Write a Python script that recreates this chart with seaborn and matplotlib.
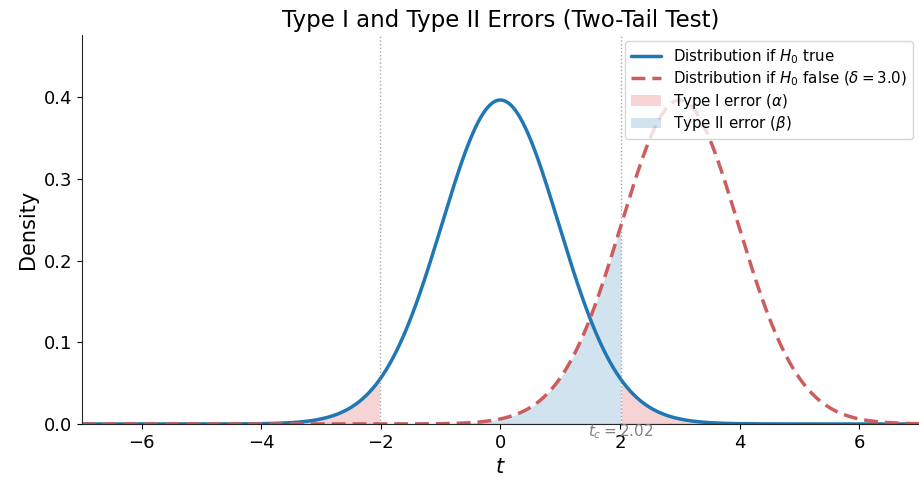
import math
import numpy as np
import pandas as pd
import matplotlib
matplotlib.use('Agg')
import matplotlib.pyplot as plt
import seaborn as sns

sns.set_style('ticks')
plt.rcParams['font.family'] = ['DejaVu Sans']
plt.rcParams['text.color'] = 'black'
plt.rcParams['axes.labelcolor'] = 'black'
plt.rcParams['xtick.color'] = 'black'
plt.rcParams['ytick.color'] = 'black'

# test setup
df_t = 40            # degrees of freedom (t_c = 2.02)
delta = 3.0          # shift of the alternative
t_crit = 2.02
x_range = [-7, 7]
y_top = 0.476


def t_pdf(x, nu):
    c = math.exp(math.lgamma((nu + 1) / 2) - math.lgamma(nu / 2)) / math.sqrt(nu * math.pi)
    return c * (1 + x ** 2 / nu) ** (-(nu + 1) / 2)


x = np.linspace(x_range[0], x_range[1], 1000)
curves = pd.DataFrame({'t': x,
                       'h0': t_pdf(x, df_t),
                       'h1': t_pdf(x - delta, df_t)})

blue = '#1f77b4'
red = '#cd5c5c'

fig = plt.figure(figsize=(9.19, 4.78), dpi=100)
ax = fig.add_axes([81.7 / 919, 1 - 424 / 478, 1 - 81.7 / 919, (424 - 35) / 478])

# Type I error: both tails under H0
left = curves[curves.t <= -t_crit]
right = curves[curves.t >= t_crit]
ax.fill_between(left.t, 0, left.h0, color='tab:red', alpha=0.2, lw=0, label=r'Type I error ($\alpha$)')
ax.fill_between(right.t, 0, right.h0, color='tab:red', alpha=0.2, lw=0)
# Type II error: H1 inside acceptance region
mid = curves[(curves.t >= -t_crit) & (curves.t <= t_crit)]
ax.fill_between(mid.t, 0, mid.h1, color='tab:blue', alpha=0.2, lw=0, label=r'Type II error ($\beta$)')

sns.lineplot(data=curves, x='t', y='h0', ax=ax, color=blue, lw=2.5,
             label=r'Distribution if $H_0$ true')
sns.lineplot(data=curves, x='t', y='h1', ax=ax, color=red, lw=2.5, ls=(0, (4, 2)),
             label=r'Distribution if $H_0$ false ($\delta = 3.0$)')

for v in (-t_crit, t_crit):
    ax.axvline(v, color='gray', ls=':', lw=1, alpha=0.7)
ax.axhline(0, color='black', lw=0.8)
ax.text(t_crit, 0.002, f'$t_c = {t_crit:.2f}$', ha='center', va='top', color='gray', fontsize=11)

ax.set_xlim(*x_range)
ax.set_ylim(0, y_top)
ax.set_yticks([0.0, 0.1, 0.2, 0.3, 0.4])
ax.tick_params(labelsize=13)
ax.set_xlabel('$t$', fontsize=15)
ax.set_ylabel('Density', fontsize=15)
ax.set_title('Type I and Type II Errors (Two-Tail Test)', fontsize=16.5)
sns.despine(ax=ax)

h, l = ax.get_legend_handles_labels()
order = [l.index(s) for s in [r'Distribution if $H_0$ true',
                              r'Distribution if $H_0$ false ($\delta = 3.0$)',
                              r'Type I error ($\alpha$)', r'Type II error ($\beta$)']]
ax.legend([h[i] for i in order], [l[i] for i in order], loc='upper right',
          fontsize=10.8, labelspacing=0.25, borderaxespad=0.4)

fig.savefig('out.png', dpi=100)
